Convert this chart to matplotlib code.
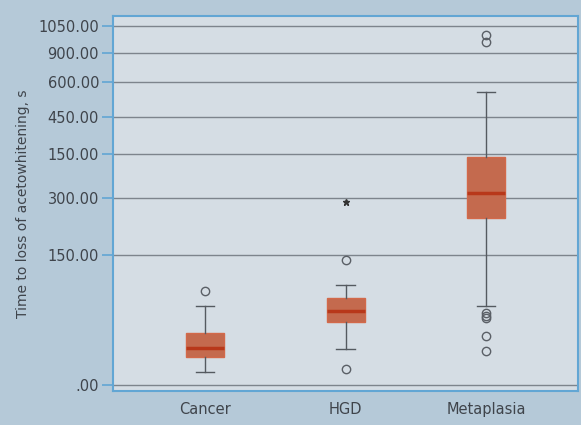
import matplotlib.pyplot as plt

# categories and box statistics (in axis units)
groups = ["Cancer", "HGD", "Metaplasia"]
q1 = [27.7, 63.3, 166.7]
med = [36.7, 74.3, 191.7]
q3 = [52.3, 87.3, 227.7]
whis_lo = [13.3, 36, 79]
whis_hi = [79.3, 100, 293.3]
outliers = [[94.3], [125, 15.7], [72, 69, 67, 49, 34.3, 350, 343]]
extremes = [[], [183.3], []]

# y ticks as labelled in the original (labels are not monotonic)
tick_pos = [0, 130, 187, 231, 268, 303, 332, 359]
tick_lab = [".00", "150.00", "300.00", "150.00", "450.00", "600.00", "900.00", "1050.00"]

bg_out = "#b5c9d8"
bg_ax = "#d5dde4"
frame = "#62a6d4"
txt = "#3f444b"

fig = plt.figure(figsize=(5.81, 4.25), dpi=100, facecolor=bg_out)
ax = fig.add_axes([0.1945, 0.08, 0.8005, 0.882], facecolor=bg_ax)

stats = []
for i in range(len(groups)):
    stats.append({"med": med[i], "q1": q1[i], "q3": q3[i],
                  "whislo": whis_lo[i], "whishi": whis_hi[i],
                  "fliers": outliers[i], "label": groups[i]})

pos = [1, 2, 3]
ax.bxp(stats, positions=pos, widths=0.27, patch_artist=True, capwidths=0.13,
       boxprops=dict(facecolor="#c46a4e", edgecolor="#d3694a", linewidth=1),
       medianprops=dict(color="#b8381a", linewidth=2.5),
       whiskerprops=dict(color="#555a60", linewidth=1),
       capprops=dict(color="#555a60", linewidth=1),
       flierprops=dict(marker="o", markersize=6, markerfacecolor="none",
                       markeredgecolor="#5a5f66", markeredgewidth=1))

for i, ex in enumerate(extremes):
    for v in ex:
        ax.plot(pos[i], v, marker="*", color="#333", markersize=5)

ax.set_xlim(0.345, 3.655)
ax.set_ylim(-6, 369)
ax.set_yticks(tick_pos)
ax.set_yticklabels(tick_lab)
ax.yaxis.grid(True, color="#7d848c", linewidth=1)
ax.set_axisbelow(True)

for s in ax.spines.values():
    s.set_color(frame)
    s.set_linewidth(1.5)

ax.tick_params(axis="y", colors=frame, length=8, width=1.2, labelsize=10.5,
               labelcolor=txt, pad=2)
ax.tick_params(axis="x", length=0, labelsize=10.5, labelcolor=txt, pad=8)

ax.set_ylabel("Time to loss of acetowhitening, s", fontsize=10, color=txt,
              labelpad=6)

fig.savefig("out.png", dpi=100, facecolor=bg_out)
